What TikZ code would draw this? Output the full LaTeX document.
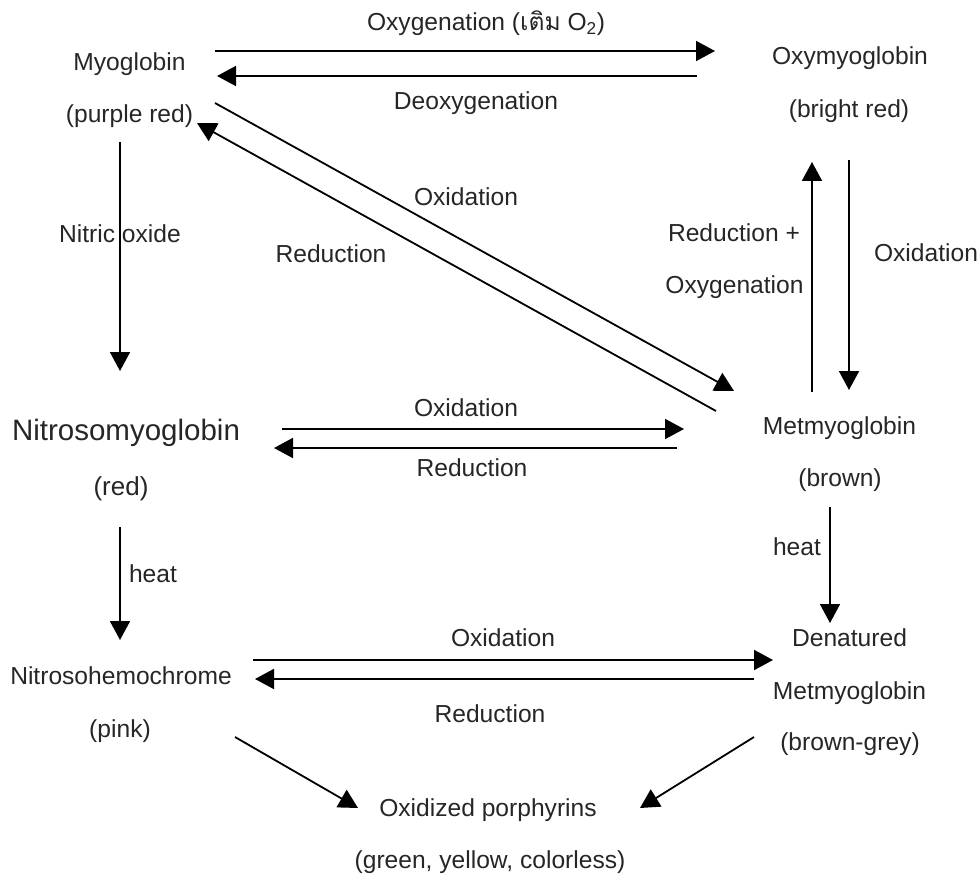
\documentclass[tikz,border=0pt]{standalone}
\usepackage{fontspec}
\setmainfont{Liberation Sans}
\newfontfamily\thaifont[Script=Thai]{Loma}
\usetikzlibrary{arrows.meta}
\begin{document}
\begin{tikzpicture}[x=1pt,y=-1pt,
  lbl/.style={font=\fontsize{24.6}{29}\selectfont, inner sep=0pt, anchor=base, text=black!85},
  big/.style={font=\fontsize{29.5}{35}\selectfont, inner sep=0pt, anchor=base, text=black!85},
  mid/.style={font=\fontsize{26}{31}\selectfont, inner sep=0pt, anchor=base, text=black!85},
  arr/.style={line width=1.8pt, -{Triangle[length=19pt,width=20pt]}},
  ln/.style={line width=1.8pt}]
\useasboundingbox (0,0) rectangle (979,896);
% compounds
\node[lbl] (myo)  at (129.5,71)  {Myoglobin};
\node[lbl] (myoc) at (129.5,123) {(purple red)};
\node[lbl] (oxy)  at (850,65)    {Oxymyoglobin};
\node[lbl] (oxyc) at (849,118)   {(bright red)};
\node[big] (nmb)  at (126,440)   {Nitrosomyoglobin};
\node[mid] (nmbc) at (121,495)   {(red)};
\node[lbl] (met)  at (839.5,434) {Metmyoglobin};
\node[lbl] (metc) at (840,486)   {(brown)};
\node[lbl] (nhc)  at (121,684)   {Nitrosohemochrome};
\node[lbl] (nhcc) at (120,737)   {(pink)};
\node[lbl] (den1) at (849.5,646) {Denatured};
\node[lbl] (den2) at (849.5,699) {Metmyoglobin};
\node[lbl] (denc) at (850,750)   {(brown-grey)};
\node[lbl] (por)  at (488,816)   {Oxidized porphyrins};
\node[lbl] (porc) at (490,868)   {(green, yellow, colorless)};
% reaction labels
\node[lbl] (l1) at (486,31)  {Oxygenation ({\thaifont เติม} O\textsubscript{2})};
\node[lbl] (l2) at (476,110) {Deoxygenation};
\node[lbl] (l3) at (466,205) {Oxidation};
\node[lbl] (l4) at (331,262) {Reduction};
\node[lbl] (l5) at (120,242) {Nitric oxide};
\node[lbl] (l6) at (734,241) {Reduction +};
\node[lbl] (l7) at (734.5,293) {Oxygenation};
\node[lbl] (l8) at (926,261) {Oxidation};
\node[lbl] (l9) at (466,416) {Oxidation};
\node[lbl] (l10) at (472,476) {Reduction};
\node[lbl] (l11) at (797,555) {heat};
\node[lbl] (l12) at (153,582) {heat};
\node[lbl] (l13) at (503,646) {Oxidation};
\node[lbl] (l14) at (490,722) {Reduction};
% arrow end points
\coordinate (a1s) at (215,51);  \coordinate (a1e) at (715,51);
\coordinate (a2s) at (697,76);  \coordinate (a2e) at (217,76);
\coordinate (a3s) at (215,103); \coordinate (a3e) at (734,391);
\coordinate (a4s) at (716,411); \coordinate (a4e) at (197,123);
\coordinate (a5s) at (120,142); \coordinate (a5e) at (120,371);
\coordinate (a6s) at (812,392); \coordinate (a6e) at (812,162);
\coordinate (a7s) at (849,160); \coordinate (a7e) at (849,390);
\coordinate (a8s) at (282,429); \coordinate (a8e) at (684,429);
\coordinate (a9s) at (677,448); \coordinate (a9e) at (274,448);
\coordinate (a10s) at (830,507); \coordinate (a10e) at (830,623);
\coordinate (a11s) at (120,527); \coordinate (a11e) at (120,640);
\coordinate (a12s) at (253,660); \coordinate (a12e) at (773,660);
\coordinate (a13s) at (754,679); \coordinate (a13e) at (255,679);
\coordinate (a14s) at (235,737); \coordinate (a14e) at (358,808);
\coordinate (a15s) at (754,737); \coordinate (a15e) at (640,808);
\foreach \i in {1,...,15} \draw[arr] (a\i s) -- (a\i e);
\end{tikzpicture}
\end{document}
